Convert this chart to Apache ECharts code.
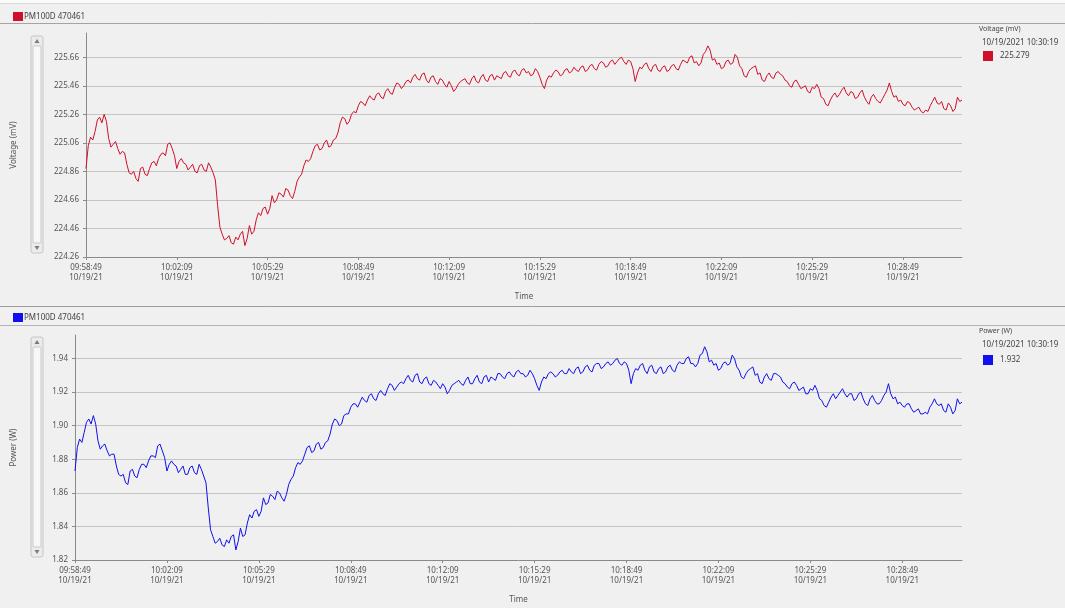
<!DOCTYPE html>
<html><head><meta charset="utf-8">
<script src="https://cdn.jsdelivr.net/npm/echarts@6/dist/echarts.min.js"></script>
<style>html,body{margin:0;padding:0;background:#f0f0f0}#c{width:1065px;height:608px}</style>
</head><body><div id="c"></div><script>
// ---- data ----
const deviceName = 'PM100D 470461';
const cursorStamp = '10/19/2021 10:30:19';
const voltageName = 'Voltage (mV)';
const powerName = 'Power (W)';
const voltageCursor = '225.279';
const powerCursor = '1.932';
const startSeconds = 9*3600 + 58*60 + 49; // 09:58:49
const dateShort = '10/19/21';
const sampleStep = 10; // seconds between main samples; mid samples sit halfway
const xTickSeconds = [0,200,400,600,800,1000,1200,1400,1600,1800];
const voltageTicks = [224.26,224.46,224.66,224.86,225.06,225.26,225.46,225.66];
const powerTicks = [1.82,1.84,1.86,1.88,1.90,1.92,1.94];

// samples at t = 0,10,20,... s
const voltage = [
224.88,225.10,225.14,225.24,225.26,225.09,225.05,225.02,225.00,224.91,
224.84,224.81,224.88,224.84,224.88,224.93,224.95,224.99,225.05,225.02,
224.88,224.95,224.91,224.89,224.86,224.90,224.87,224.92,224.85,224.62,
224.42,224.39,224.36,224.40,224.42,224.34,224.48,224.44,224.57,224.60,
224.56,224.69,224.66,224.70,224.74,224.69,224.72,224.82,224.90,224.93,
225.00,225.05,225.02,225.08,225.04,225.09,225.20,225.23,225.21,225.28,
225.32,225.34,225.36,225.37,225.40,225.38,225.42,225.41,225.45,225.47,
225.46,225.50,225.52,225.51,225.54,225.50,225.52,225.49,225.51,225.47,
225.49,225.42,225.47,225.50,225.48,225.51,225.49,225.52,225.50,225.53,
225.50,225.52,225.55,225.53,225.56,225.54,225.57,225.55,225.53,225.58,
225.52,225.44,225.53,225.55,225.56,225.54,225.58,225.56,225.57,225.59,
225.56,225.60,225.58,225.61,225.62,225.60,225.64,225.63,225.66,225.61,
225.63,225.49,225.59,225.61,225.58,225.60,225.57,225.59,225.56,225.60,
225.58,225.61,225.63,225.66,225.62,225.60,225.68,225.74,225.64,225.61,
225.58,225.63,225.61,225.68,225.60,225.53,225.56,225.59,225.54,225.50,
225.53,225.52,225.55,225.54,225.50,225.46,225.49,225.47,225.45,225.42,
225.45,225.47,225.38,225.33,225.36,225.41,225.40,225.45,225.39,225.41,
225.38,225.43,225.35,225.38,225.37,225.34,225.40,225.48,225.38,225.35,
225.33,225.35,225.31,225.30,225.28,225.29,225.32,225.38,225.33,225.30,
225.34,225.28,225.38,225.36
];
// samples at t = 5,15,25,... s
const voltageMid = [
225.04,225.08,225.22,225.20,225.21,225.03,225.07,224.98,224.99,224.85,
224.86,224.79,224.89,224.83,224.92,224.90,224.98,224.97,225.06,224.97,
224.93,224.92,224.87,224.91,224.85,224.91,224.86,224.89,224.80,224.47,
224.38,224.41,224.35,224.38,224.44,224.39,224.42,224.52,224.55,224.61,
224.60,224.64,224.71,224.68,224.73,224.67,224.79,224.84,224.94,224.95,
225.04,225.01,225.06,225.03,225.08,225.13,225.24,225.19,225.26,225.27,
225.35,225.32,225.39,225.36,225.41,225.37,225.44,225.40,225.48,225.44,
225.49,225.48,225.54,225.50,225.55,225.48,225.53,225.47,225.50,225.45,
225.46,225.44,225.49,225.51,225.47,225.53,225.48,225.54,225.49,225.54,
225.53,225.51,225.56,225.52,225.57,225.53,225.58,225.56,225.54,225.56,
225.47,225.50,225.52,225.57,225.53,225.57,225.55,225.59,225.56,225.60,
225.57,225.61,225.57,225.63,225.59,225.63,225.61,225.65,225.63,225.64,
225.58,225.55,225.58,225.62,225.56,225.61,225.56,225.60,225.57,225.61,
225.57,225.64,225.62,225.67,225.63,225.62,225.70,225.71,225.65,225.62,
225.59,225.64,225.62,225.66,225.58,225.52,225.58,225.60,225.55,225.49,
225.55,225.51,225.56,225.53,225.49,225.45,225.50,225.44,225.46,225.41,
225.44,225.44,225.37,225.32,225.39,225.38,225.43,225.41,225.42,225.37,
225.41,225.38,225.33,225.40,225.35,225.37,225.43,225.42,225.39,225.36,
225.32,225.34,225.29,225.31,225.27,225.28,225.35,225.34,225.35,225.29,
225.32,225.30,225.35
];
const power = [
1.873,1.892,1.896,1.904,1.906,1.891,1.888,1.885,1.883,1.876,
1.870,1.866,1.873,1.870,1.874,1.877,1.879,1.882,1.888,1.885,
1.873,1.879,1.876,1.874,1.871,1.875,1.872,1.877,1.870,1.851,
1.834,1.831,1.829,1.832,1.834,1.826,1.839,1.835,1.847,1.849,
1.846,1.857,1.854,1.858,1.861,1.857,1.859,1.868,1.875,1.877,
1.883,1.888,1.885,1.890,1.887,1.891,1.901,1.903,1.901,1.907,
1.911,1.913,1.914,1.915,1.918,1.916,1.919,1.919,1.922,1.924,
1.923,1.926,1.928,1.927,1.930,1.926,1.928,1.925,1.927,1.924,
1.925,1.919,1.924,1.926,1.925,1.927,1.925,1.928,1.926,1.929,
1.926,1.928,1.931,1.929,1.931,1.930,1.932,1.931,1.929,1.933,
1.928,1.921,1.929,1.931,1.931,1.930,1.933,1.931,1.932,1.934,
1.931,1.935,1.933,1.936,1.937,1.935,1.938,1.937,1.940,1.936,
1.937,1.925,1.934,1.936,1.933,1.935,1.932,1.934,1.931,1.935,
1.933,1.936,1.937,1.940,1.937,1.935,1.942,1.947,1.938,1.936,
1.933,1.937,1.936,1.942,1.935,1.929,1.931,1.934,1.930,1.926,
1.929,1.928,1.931,1.930,1.926,1.923,1.925,1.924,1.922,1.919,
1.922,1.924,1.916,1.912,1.914,1.919,1.918,1.922,1.917,1.919,
1.916,1.920,1.913,1.916,1.915,1.913,1.918,1.925,1.916,1.913,
1.912,1.913,1.910,1.909,1.907,1.908,1.911,1.916,1.912,1.909,
1.913,1.907,1.916,1.914
];
const powerMid = [
1.887,1.890,1.902,1.901,1.901,1.886,1.889,1.882,1.883,1.871,
1.871,1.865,1.874,1.869,1.877,1.875,1.882,1.881,1.889,1.881,
1.877,1.877,1.872,1.876,1.871,1.876,1.871,1.874,1.866,1.838,
1.830,1.833,1.828,1.830,1.835,1.831,1.834,1.842,1.845,1.850,
1.849,1.853,1.859,1.856,1.860,1.855,1.865,1.870,1.878,1.879,
1.887,1.884,1.889,1.886,1.890,1.895,1.904,1.900,1.906,1.907,
1.913,1.911,1.917,1.914,1.919,1.915,1.921,1.918,1.925,1.921,
1.925,1.925,1.930,1.926,1.931,1.925,1.929,1.924,1.926,1.922,
1.923,1.921,1.925,1.927,1.924,1.929,1.925,1.930,1.925,1.930,
1.929,1.927,1.931,1.928,1.932,1.929,1.933,1.931,1.930,1.931,
1.924,1.926,1.928,1.932,1.929,1.932,1.931,1.934,1.931,1.935,
1.932,1.936,1.932,1.937,1.934,1.937,1.936,1.939,1.937,1.938,
1.933,1.931,1.933,1.937,1.931,1.936,1.931,1.935,1.932,1.936,
1.932,1.938,1.937,1.941,1.937,1.937,1.943,1.944,1.939,1.937,
1.934,1.938,1.937,1.940,1.933,1.928,1.933,1.935,1.931,1.925,
1.931,1.927,1.931,1.929,1.925,1.922,1.926,1.921,1.923,1.919,
1.921,1.921,1.915,1.911,1.917,1.916,1.920,1.919,1.919,1.915,
1.919,1.916,1.912,1.918,1.913,1.915,1.920,1.919,1.917,1.914,
1.911,1.913,1.908,1.910,1.907,1.907,1.913,1.913,1.913,1.908,
1.911,1.909,1.913
];

// ---- helpers ----
const FONT = 'Noto Sans';
function pad(n){return (n<10?'0':'')+n;}
function clock(t){
  const s = startSeconds + t;
  return pad(Math.floor(s/3600))+':'+pad(Math.floor(s%3600/60))+':'+pad(s%60);
}
function interleave(main, mid){
  const out = [];
  main.forEach((v,i)=>{
    out.push([i*sampleStep, v]);
    if (i < mid.length) out.push([i*sampleStep + sampleStep/2, mid[i]]);
  });
  return out;
}
const vData = interleave(voltage, voltageMid);
const pData = interleave(power, powerMid);
const xMax = (voltage.length-1)*sampleStep;

function xAxis(gi){
  return {
    type:'value', gridIndex:gi, min:0, max:xMax,
    name:'Time', nameLocation:'middle', nameGap:36,
    nameTextStyle:{fontSize:8, color:'#555', fontFamily:FONT},
    axisLine:{lineStyle:{color:'#8a8a8a', width:1}},
    axisTick:{show:true, length:3, customValues:xTickSeconds, lineStyle:{color:'#8a8a8a'}},
    axisLabel:{customValues:xTickSeconds, fontSize:8, lineHeight:10, color:'#555', fontFamily:FONT, margin:6,
      formatter:v=>clock(v)+'\n'+dateShort},
    splitLine:{show:false}
  };
}
function yAxis(gi, ticks, max, name, gap){
  const step = +(ticks[1]-ticks[0]).toFixed(4);
  return {
    type:'value', gridIndex:gi, min:ticks[0], max:max, interval:step,
    name:name, nameLocation:'middle', nameGap:gap, nameRotate:90,
    nameTextStyle:{fontSize:8, color:'#555', fontFamily:FONT},
    axisLine:{show:true, lineStyle:{color:'#8a8a8a', width:1}},
    axisTick:{show:true, length:3, lineStyle:{color:'#8a8a8a'}},
    axisLabel:{fontSize:8, color:'#555', fontFamily:FONT, margin:7, showMaxLabel:false,
      formatter:v=>v.toFixed(2)},
    splitLine:{show:true, showMaxLine:false, showMinLine:false, lineStyle:{color:'#c4c4c4', width:1}}
  };
}

function scrollbar(x, y1, y2){
  const w = 12;
  return [
    {type:'rect', shape:{x:x, y:y1, width:w, height:y2-y1, r:2}, style:{fill:'#ebebeb', stroke:'#c6c6c6', lineWidth:1}, silent:true},
    {type:'rect', shape:{x:x+2, y:y1+10, width:w-4, height:y2-y1-20, r:1}, style:{fill:'#f7f7f7', stroke:'#c9c9c9', lineWidth:1}, silent:true},
    {type:'polygon', shape:{points:[[x+w/2,y1+3],[x+w/2-2.5,y1+7],[x+w/2+2.5,y1+7]]}, style:{fill:'#7a7a7a'}, silent:true},
    {type:'polygon', shape:{points:[[x+w/2,y2-3],[x+w/2-2.5,y2-7],[x+w/2+2.5,y2-7]]}, style:{fill:'#7a7a7a'}, silent:true}
  ];
}
function hline(y, color){
  return {type:'line', shape:{x1:0,y1:y,x2:1065,y2:y}, style:{stroke:color, lineWidth:1}, silent:true};
}
function txt(x,y,s,size){
  return {type:'text', x:x, y:y, silent:true,
    style:{text:s, fontSize:size||8, fill:'#444', fontFamily:FONT, verticalAlign:'middle'}};
}

const graphics = [
  {type:'rect', shape:{x:0,y:0,width:1065,height:3}, style:{fill:'#fbfbfb'}, silent:true},
  hline(3.5,'#dadada'),
  hline(23.5,'#a4a4a4'),
  {type:'rect', shape:{x:13,y:12,width:10,height:9}, style:{fill:'#d0102a'}, silent:true},
  txt(24,16.5,deviceName),
  hline(306.5,'#9c9c9c'),
  hline(325.5,'#b4b4b4'),
  {type:'rect', shape:{x:13,y:313,width:10,height:9}, style:{fill:'#1010ee'}, silent:true},
  txt(24,318,deviceName),
  // legends
  txt(979,29,voltageName,7),
  txt(982,43,cursorStamp),
  {type:'rect', shape:{x:983,y:51,width:10,height:10}, style:{fill:'#d0102a'}, silent:true},
  txt(1000,56,voltageCursor),
  txt(979,331,powerName,7),
  txt(982,345,cursorStamp),
  {type:'rect', shape:{x:983,y:355,width:10,height:10}, style:{fill:'#1010ee'}, silent:true},
  txt(1000,360,powerCursor)
].concat(scrollbar(31,36,253)).concat(scrollbar(31,337,557));

const chart = echarts.init(document.getElementById('c'), null, {renderer:'canvas'});
chart.setOption({
  backgroundColor:'#f0f0f0',
  animation:false,
  grid:[
    {left:86, right:103, top:33, height:224, containLabel:false},
    {left:75, right:103, top:335, height:225, containLabel:false}
  ],
  xAxis:[xAxis(0), xAxis(1)],
  yAxis:[
    yAxis(0, voltageTicks, 225.83, voltageName, 68),
    yAxis(1, powerTicks, 1.954, powerName, 57)
  ],
  series:[
    {type:'line', xAxisIndex:0, yAxisIndex:0, data:vData, showSymbol:false, lineStyle:{color:'#d0102a', width:1}, itemStyle:{color:'#d0102a'}},
    {type:'line', xAxisIndex:1, yAxisIndex:1, data:pData, showSymbol:false, lineStyle:{color:'#1010ee', width:1}, itemStyle:{color:'#1010ee'}}
  ],
  graphic:graphics
});
</script></body></html>
